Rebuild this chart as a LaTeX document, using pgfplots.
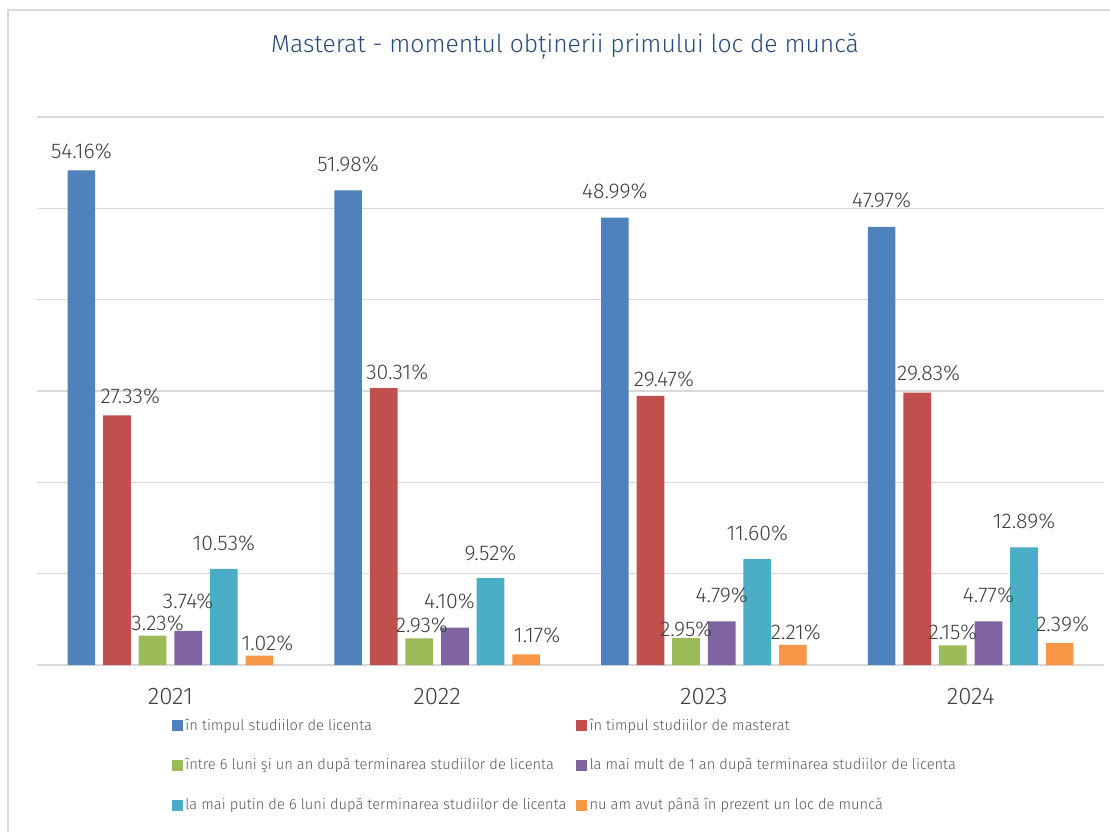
\documentclass[border=0pt]{standalone}
\usepackage{fontspec}
\IfFontExistsTF{Fira Sans Light}{\setmainfont{Fira Sans Light}}{\setmainfont{Fira Sans}}
\usepackage{pgfplots}
\usepackage{pgfplotstable}
\pgfplotsset{compat=1.18}

\definecolor{cblue}{HTML}{4F81BD}
\definecolor{cred}{HTML}{C0504D}
\definecolor{cgreen}{HTML}{9BBB59}
\definecolor{cpurple}{HTML}{8064A2}
\definecolor{cteal}{HTML}{4BACC6}
\definecolor{corange}{HTML}{F79646}
\definecolor{gridgray}{HTML}{D9D9D9}
\definecolor{framegray}{HTML}{D9D9D9}
\definecolor{lblgray}{HTML}{404040}
\definecolor{legendgray}{HTML}{595959}
\definecolor{titleblue}{HTML}{254A7C}

% x = year index, y = value, dx/dy = label offset from bar top (px)
\pgfplotstableread{
x y dx dy
0 54.16 0 19
1 51.98 0 25.7
2 48.99 0 26
3 47.97 0 27
}\tblicenta
\pgfplotstableread{
x y dx dy
0 27.33 13.3 19
1 30.31 13.5 16.4
2 29.47 13.5 16.3
3 29.83 11.3 19.3
}\tmaster
\pgfplotstableread{
x y dx dy
0 3.23 5 12.7
1 2.93 2.5 13
2 2.95 0 9
3 2.15 0 12.7
}\tsase
\pgfplotstableread{
x y dx dy
0 3.74 0 30
1 4.10 -5.5 26.7
2 4.79 0 26.3
3 4.77 0 25.7
}\tunan
\pgfplotstableread{
x y dx dy
0 10.53 0 25.7
1 9.52 0 25
2 11.60 0 25.7
3 12.89 0 25.7
}\tmaiputin
\pgfplotstableread{
x y dx dy
0 1.02 8 12.7
1 1.17 11 19
2 2.21 3 12.7
3 2.39 3 19
}\tnu

\pgfplotsset{
  lbl/.style={
    point meta=y,
    visualization depends on={\thisrow{dx}\as\ldx},
    visualization depends on={\thisrow{dy}\as\ldy},
    nodes near coords={\pgfmathprintnumber[fixed,fixed zerofill,precision=2]{\pgfplotspointmeta}\%},
    nodes near coords align={center},
    every node near coord/.append style={anchor=center, xshift=\ldx*0.75pt, yshift=\ldy*0.75pt,
      font=\fontsize{16}{16}\selectfont, text=lblgray, inner sep=0pt},
  },
}

\begin{document}
\begin{tikzpicture}
\useasboundingbox (0pt,0pt) rectangle (832.5pt,-624pt);
\fill[white] (0pt,0pt) rectangle (832.5pt,-624pt);
\draw[framegray, line width=1.1pt] (6pt,-624pt) -- (6pt,-7.5pt) -- (832.5pt,-7.5pt);
\begin{axis}[
  at={(27.75pt,-498.75pt)}, anchor=south west,
  scale only axis, width=800.25pt, height=411pt,
  xmin=-0.5, xmax=3.5, ymin=0, ymax=60,
  ybar=5.9pt, bar width=20.8pt,
  /pgf/number format/assume math mode=true,
  axis line style={draw=none},
  major tick length=0pt,
  ytick={0,10,...,60}, yticklabels={},
  ymajorgrids, grid style={gridgray, line width=1.2pt},
  xtick={0,1,2,3}, xticklabels={2021,2022,2023,2024},
  xticklabel style={anchor=center, yshift=-23.8pt, font=\fontsize{18}{18}\selectfont, text=lblgray},
  title={Masterat - momentul obținerii primului loc de muncă},
  title style={at={(0.4948,1.104)}, anchor=base, font=\fontsize{18.5}{18.5}\selectfont, text=titleblue},
  legend columns=2,
  legend image code/.code={\fill[#1, draw=none] (0pt,-4.1pt) rectangle (8.25pt,4.1pt);},
  legend style={at={(0.126,-0.0941)}, anchor=north west, draw=none, fill=none, inner sep=0pt,
    font=\fontsize{11}{11}\selectfont, text=legendgray, column sep=0pt, row sep=16.3pt,
    /tikz/every even column/.append style={text height=8pt, text depth=2.4pt},
    /tikz/column 2/.style={column sep=5pt},
    cells={anchor=west}},
]
\addplot[fill=cblue, draw=none, lbl] table[x=x, y=y] {\tblicenta};
\addlegendentry{în timpul studiilor de licenta}
\addplot[fill=cred, draw=none, lbl] table[x=x, y=y] {\tmaster};
\addlegendentry{în timpul studiilor de masterat}
\addplot[fill=cgreen, draw=none, lbl] table[x=x, y=y] {\tsase};
\addlegendentry{între 6 luni şi un an după terminarea studiilor de licenta}
\addplot[fill=cpurple, draw=none, lbl] table[x=x, y=y] {\tunan};
\addlegendentry{la mai mult de 1 an după terminarea studiilor de licenta}
\addplot[fill=cteal, draw=none, lbl] table[x=x, y=y] {\tmaiputin};
\addlegendentry{la mai putin de 6 luni după terminarea studiilor de licenta}
\addplot[fill=corange, draw=none, lbl] table[x=x, y=y] {\tnu};
\addlegendentry{nu am avut până în prezent un loc de muncă}
\end{axis}
\end{tikzpicture}
\end{document}
